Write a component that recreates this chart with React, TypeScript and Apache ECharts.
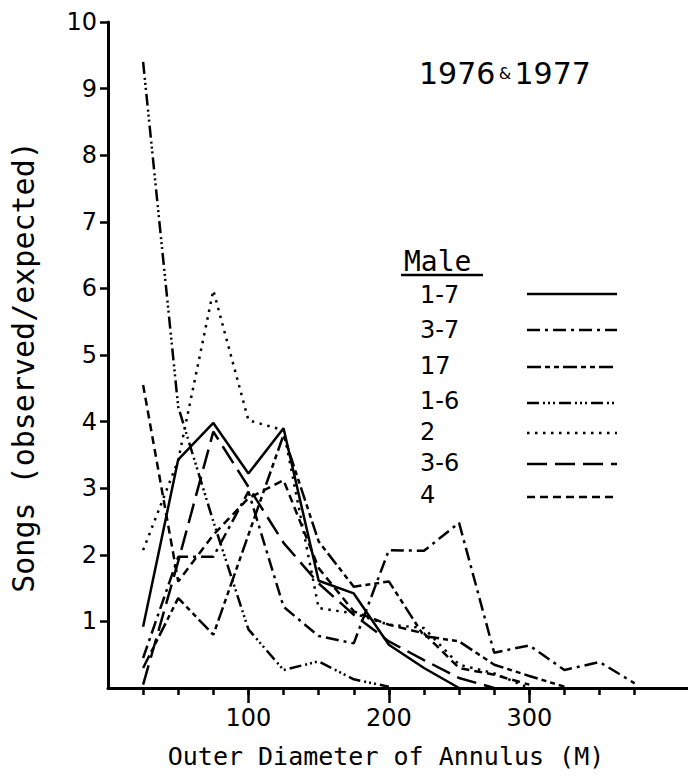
import React, { useEffect, useRef } from "react";
import * as echarts from "echarts";

// ---- data ----
const diameters = [25, 50, 75, 100, 125, 150, 175, 200, 225, 250, 275, 300, 325, 350, 375];

const male1_7 = [0.92, 3.43, 3.98, 3.22, 3.9, 1.61, 1.42, 0.65, 0.3, 0.0];
const male3_7 = [0.45, 1.97, 1.97, 2.95, 1.22, 0.78, 0.67, 2.07, 2.06, 2.48, 0.53, 0.64, 0.27, 0.39, 0.07];
const male17 = [0.3, 1.35, 0.8, 2.3, 3.8, 2.2, 1.52, 1.6, 0.78, 0.7, 0.35, 0.18, 0.02];
const male1_6 = [9.4, 4.22, 2.5, 0.88, 0.27, 0.4, 0.13, 0.02];
const male2 = [2.07, 3.42, 5.97, 4.02, 3.87, 1.2, 1.12, 0.95, 0.9, 0.35, 0.22, 0.0];
const male3_6 = [0.05, 1.9, 3.85, 3.02, 2.18, 1.57, 1.1, 0.7, 0.42, 0.15, 0.0];
const male4 = [4.55, 1.6, 2.3, 2.85, 3.12, 1.8, 1.15, 0.95, 0.82, 0.3, 0.2, 0.05];

const seriesNames = ["1-7", "3-7", "17", "1-6", "2", "3-6", "4"];
const seriesValues = [male1_7, male3_7, male17, male1_6, male2, male3_6, male4];

const xMajorTicks = [100, 200, 300];
const xMinorTicks = [25, 50, 75, 100, 125, 150, 175, 200, 225, 250, 275, 300, 325, 350, 375];
const yTicks = [1, 2, 3, 4, 5, 6, 7, 8, 9, 10];

const WORD_FONT = "DejaVu Sans Mono";
const NUM_FONT = "DejaVu Sans";
const INK = "#000";

const dashStyles: any[] = [
  "solid",
  [13, 5, 3, 5],
  [14, 4, 5, 4, 5, 4],
  [12, 4, 2, 3, 2, 3, 2, 4],
  [2.5, 5.5],
  [20, 8],
  [8, 5],
];

export default function App() {
  const ref = useRef<HTMLDivElement>(null);
  useEffect(() => {
    const chart = echarts.init(ref.current!, null, { renderer: "svg" });

    const series = seriesNames.map((name, i) => ({
      name,
      type: "line",
      xAxisIndex: 0,
      yAxisIndex: 0,
      data: seriesValues[i].map((v, k) => [diameters[k], v]),
      symbol: "none",
      lineStyle: { color: INK, width: 2.5, type: dashStyles[i] },
      z: 3,
    }));

    const legendLabelYs = [296, 331, 367, 402, 433, 464, 496];
    const legendLineYs = [294, 330, 367, 403, 433, 464, 497];
    const legendGraphics: any[] = [];
    seriesNames.forEach((name, i) => {
      legendGraphics.push({
        type: "text",
        left: 420,
        top: legendLabelYs[i] - 13,
        style: { text: name, fontFamily: NUM_FONT, fontSize: 24, fill: INK },
      });
      legendGraphics.push({
        type: "line",
        shape: { x1: 527, y1: legendLineYs[i], x2: 617, y2: legendLineYs[i] },
        style: { stroke: INK, lineWidth: 2.5, lineDash: dashStyles[i] === "solid" ? null : dashStyles[i] },
      });
    });

    const option: any = {
      animation: false,
      backgroundColor: "#fff",
      grid: { left: 106, right: 0, top: 22, bottom: 95 },
      xAxis: [
        {
          type: "value",
          min: 0,
          max: 413,
          position: "bottom",
          axisLine: { show: true, lineStyle: { color: INK, width: 3 } },
          axisTick: { show: true, customValues: xMajorTicks, length: 15, lineStyle: { color: INK, width: 2.5 } },
          axisLabel: { customValues: xMajorTicks, margin: 18, fontSize: 24, fontFamily: NUM_FONT, color: INK },
          splitLine: { show: false },
          name: "Outer Diameter of Annulus (M)",
          nameLocation: "middle",
          nameGap: 56,
          nameTextStyle: { fontSize: 25, fontFamily: WORD_FONT, color: INK, padding: [0, 24, 0, 0] },
        },
        {
          type: "value",
          min: 0,
          max: 413,
          position: "bottom",
          axisLine: { show: false },
          axisTick: { show: true, customValues: xMinorTicks, length: 7, lineStyle: { color: INK, width: 2.5 } },
          axisLabel: { show: false },
          splitLine: { show: false },
        },
      ],
      yAxis: {
        type: "value",
        min: 0,
        max: 10,
        interval: 1,
        axisLine: { show: true, lineStyle: { color: INK, width: 3 } },
        axisTick: { show: true, customValues: yTicks, length: 8, lineStyle: { color: INK, width: 2.5 } },
        axisLabel: { customValues: yTicks, margin: 11, fontSize: 24, fontFamily: NUM_FONT, color: INK },
        splitLine: { show: false },
        name: "Songs (observed/expected)",
        nameLocation: "middle",
        nameRotate: 90,
        nameGap: 70,
        nameTextStyle: { fontSize: 30, fontFamily: WORD_FONT, color: INK, padding: [0, 24, 0, 0] },
      },
      series,
      graphic: [
        {
          type: "text",
          left: 419,
          top: 58,
          style: {
            text: "{a|1976} {b|&} {a|1977}",
            rich: {
              a: { fontFamily: NUM_FONT, fontSize: 30, fill: INK },
              b: { fontFamily: NUM_FONT, fontSize: 16, fill: INK },
            },
          },
        },
        {
          type: "text",
          left: 404,
          top: 247,
          style: { text: "Male", fontFamily: WORD_FONT, fontSize: 28, fill: INK },
        },
        {
          type: "line",
          shape: { x1: 401, y1: 275, x2: 483, y2: 275 },
          style: { stroke: INK, lineWidth: 2.5 },
        },
        ...legendGraphics,
      ],
    };
    chart.setOption(option);
    return () => chart.dispose();
  }, []);
  return (
    <div
      ref={ref}
      style={{ position: "fixed", left: 0, top: 0, width: 688, height: 783, background: "#fff" }}
    />
  );
}
